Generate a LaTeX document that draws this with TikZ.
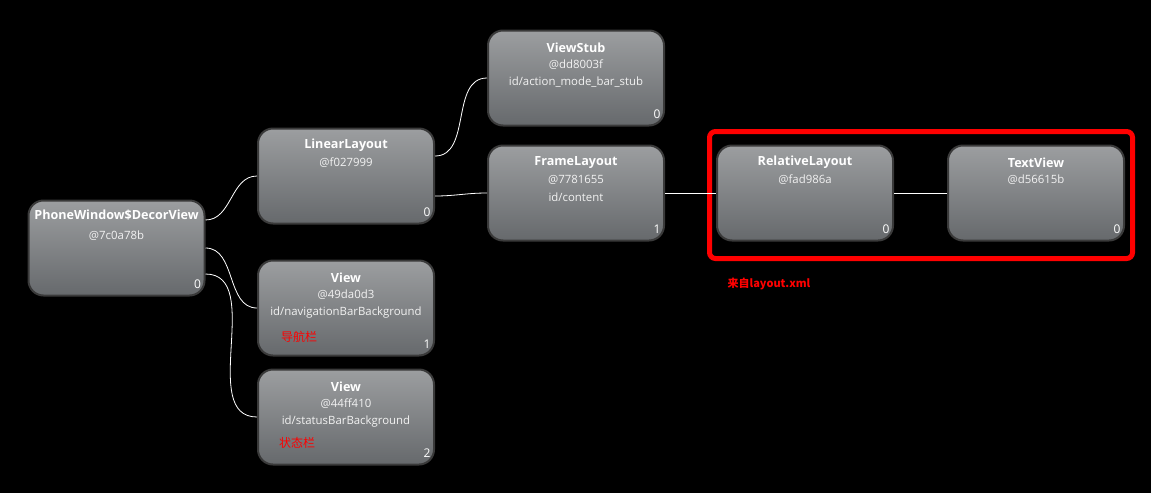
\documentclass[tikz,border=0pt]{standalone}
\usepackage{fontspec}
\setmainfont{Open Sans}
\newfontfamily\cjk{Noto Sans CJK SC}
\definecolor{boxtop}{HTML}{9C9EA0}
\definecolor{boxbot}{HTML}{66696C}
\definecolor{boxline}{HTML}{3A3A3A}
\definecolor{subtxt}{HTML}{F2F2F2}
\definecolor{redc}{HTML}{FF0000}
\begin{document}
\begin{tikzpicture}[x=1pt,y=-1pt,
  box/.style={draw=boxline, line width=2pt, rounded corners=15pt, minimum width=176pt, minimum height=95pt, top color=boxtop, bottom color=boxbot, inner sep=0pt},
  ttl/.style={font=\bfseries\fontsize{12.6}{15}\selectfont, text=white, inner sep=0pt},
  sub/.style={font=\fontsize{11.4}{13}\selectfont, text=subtxt, inner sep=0pt},
  idx/.style={font=\fontsize{12}{14}\selectfont, text=white, inner sep=0pt},
  cjklab/.style={font=\cjk\fontsize{12}{14}\selectfont, text=redc, inner sep=0pt},
  wire/.style={draw=white, line width=0.8pt},
  redbox/.style={draw=redc, line width=5pt, rounded corners=6pt, minimum width=423pt, minimum height=127pt, inner sep=0pt}
]
\fill[black] (0,0) rectangle (1151,493);
\useasboundingbox (0,0) rectangle (1151,493);

% boxes
\node[box] (dec) at (116.5,248) {};
\node[box] (lin) at (346,176) {};
\node[box] (va) at (346,308) {};
\node[box] (vb) at (346,417) {};
\node[box] (stub) at (576,78) {};
\node[box] (frame) at (576,193) {};
\node[box] (rel) at (805,193) {};
\node[box] (tv) at (1036,193) {};

% red group
\node[redbox] (grp) at (921,195) {};

% texts
\newcommand{\boxtext}[5]{%
  \node[ttl] (#1t) at ([yshift=-18pt]#1.north) {#2};
  \node[sub] (#1s) at ([yshift=-35pt]#1.north) {#3};
  \node[sub] (#1i) at ([yshift=-53pt]#1.north) {#4};
  \node[idx] (#1n) at ([xshift=-8pt,yshift=12pt]#1.south east) {#5};
}
\node[ttl] (dect) at ([yshift=-16pt]dec.north) {PhoneWindow\$DecorView};
\node[sub] (decs) at ([yshift=-36pt]dec.north) {@7c0a78b};
\node[idx] (decn) at ([xshift=-8pt,yshift=12pt]dec.south east) {0};
\boxtext{lin}{LinearLayout}{@f027999}{}{0}
\boxtext{va}{View}{@49da0d3}{id/navigationBarBackground}{1}
\boxtext{vb}{View}{@44ff410}{id/statusBarBackground}{2}
\boxtext{stub}{ViewStub}{@dd8003f}{id/action\_mode\_bar\_stub}{0}
\boxtext{frame}{FrameLayout}{@7781655}{id/content}{1}
\boxtext{rel}{RelativeLayout}{@fad986a}{}{0}
\boxtext{tv}{TextView}{@d56615b}{}{0}

\node[cjklab] (nav) at ([xshift=42pt,yshift=20pt]va.south west) {导航栏};
\node[cjklab] (stat) at ([xshift=40pt,yshift=23pt]vb.south west) {状态栏};
\node[font=\cjk\bfseries\fontsize{11}{13}\selectfont, text=redc, inner sep=0pt] (src) at ([xshift=62pt,yshift=-23pt]grp.south west) {来自layout.xml};

% connectors
\draw[wire] ([yshift=28pt]dec.east) to[out=0,in=180] (lin.west);
\draw[wire] (dec.east) to[out=0,in=180] (va.west);
\draw[wire] ([yshift=-26pt]dec.east) to[out=0,in=180] (vb.west);
\draw[wire] ([yshift=20pt]lin.east) to[out=0,in=180] (stub.west);
\draw[wire] ([yshift=-20pt]lin.east) to[out=0,in=180] (frame.west);
\draw[wire] (frame.east) -- (rel.west);
\draw[wire] (rel.east) -- (tv.west);
\end{tikzpicture}
\end{document}
